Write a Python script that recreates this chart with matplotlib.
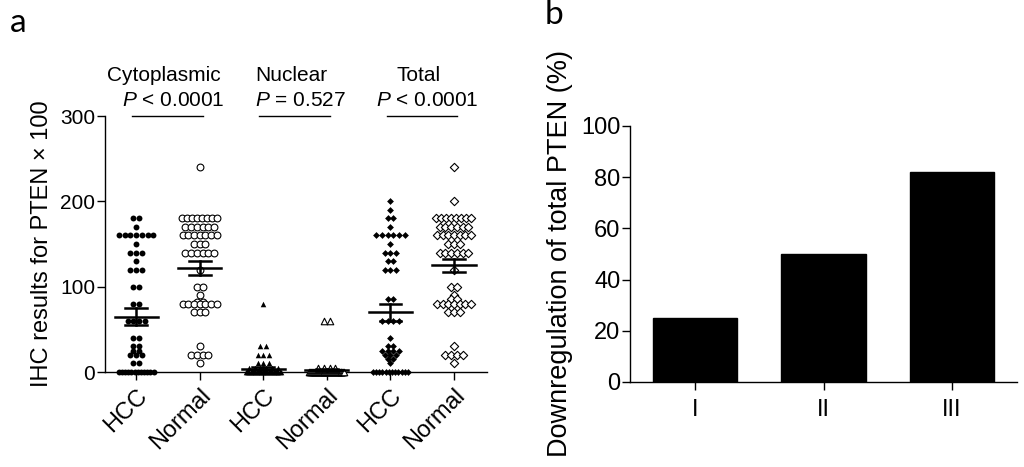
import numpy as np
import matplotlib
matplotlib.use("Agg")
import matplotlib.pyplot as plt

plt.rcParams['font.family'] = ['Liberation Sans', 'DejaVu Sans']
plt.rcParams['mathtext.fontset'] = 'custom'
plt.rcParams['mathtext.it'] = 'Liberation Sans:italic'
plt.rcParams['mathtext.rm'] = 'Liberation Sans'

# ---- panel a: IHC scores (value levels and how many samples sit on each) ----
group_labels = ['HCC', 'Normal', 'HCC', 'Normal', 'HCC', 'Normal']

cyto_hcc_vals = [180, 170, 160, 150, 140, 130, 120, 100, 80, 60, 40, 30, 25, 20, 10, 0]
cyto_hcc_cnts = [2, 1, 7, 1, 3, 1, 3, 2, 2, 4, 2, 2, 2, 3, 2, 12]
cyto_norm_vals = [240, 180, 170, 160, 150, 140, 120, 100, 90, 82, 80, 70, 30, 20, 10]
cyto_norm_cnts = [1, 8, 6, 7, 3, 6, 1, 2, 1, 2, 7, 3, 1, 4, 1]

nuc_hcc_vals = [80, 30, 20, 10, 5, 0]
nuc_hcc_cnts = [1, 2, 3, 3, 6, 30]
nuc_norm_vals = [60, 5, 0]
nuc_norm_cnts = [2, 4, 38]

tot_hcc_vals = [200, 190, 180, 170, 160, 150, 140, 130, 120, 85, 60, 40, 30, 25, 20, 15, 10, 0]
tot_hcc_cnts = [1, 1, 2, 1, 6, 1, 3, 2, 3, 2, 4, 1, 2, 4, 3, 2, 1, 12]
tot_norm_vals = [240, 200, 180, 170, 160, 150, 140, 120, 100, 90, 85, 80, 70, 30, 20, 10]
tot_norm_cnts = [1, 1, 8, 6, 7, 3, 6, 1, 2, 1, 2, 7, 3, 1, 4, 1]

group_means = [65, 122, 4, 2, 70, 125]
group_sems = [9.5, 8, 2, 1, 10, 8]

compartments = ['Cytoplasmic', 'Nuclear', 'Total']
p_texts = [r'$\mathit{P}$ < 0.0001', r'$\mathit{P}$ = 0.527', r'$\mathit{P}$ < 0.0001']

# ---- panel b ----
stages = ['I', 'II', 'III']
downreg = [25, 50, 82]

groups = [
    (cyto_hcc_vals, cyto_hcc_cnts, 'o', True),
    (cyto_norm_vals, cyto_norm_cnts, 'o', False),
    (nuc_hcc_vals, nuc_hcc_cnts, '^', True),
    (nuc_norm_vals, nuc_norm_cnts, '^', False),
    (tot_hcc_vals, tot_hcc_cnts, 'D', True),
    (tot_norm_vals, tot_norm_cnts, 'D', False),
]


def spread(center, vals, cnts, step=0.09, maxw=0.55):
    xs, ys = [], []
    for v, n in zip(vals, cnts):
        if n > 1:
            w = min(step * (n - 1), maxw)
            off = np.linspace(-w / 2, w / 2, n)
        else:
            off = np.array([0.0])
        xs.extend(center + off)
        ys.extend([v] * n)
    return np.array(xs), np.array(ys)


fig = plt.figure(figsize=(10.24, 4.67), dpi=100)
W, H = 1024, 467

axa = fig.add_axes([105 / W, 1 - 372 / H, 382 / W, 256 / H])
for i, (vals, cnts, mk, filled) in enumerate(groups):
    xs, ys = spread(i, vals, cnts)
    size = {'o': 18, '^': 16, 'D': 12}[mk]
    if filled:
        axa.scatter(xs, ys, s=size, marker=mk, c='black', linewidths=0, clip_on=False, zorder=3)
    else:
        axa.scatter(xs, ys, s=size + 6, marker=mk, facecolors='white', edgecolors='black',
                    linewidths=0.8, clip_on=False, zorder=3)
    m, se = group_means[i], group_sems[i]
    axa.plot([i - 0.34, i + 0.34], [m, m], color='black', lw=1.8, zorder=4, clip_on=False)
    axa.plot([i - 0.17, i + 0.17], [m + se, m + se], color='black', lw=1.8, zorder=4, clip_on=False)
    axa.plot([i - 0.17, i + 0.17], [m - se, m - se], color='black', lw=1.8, zorder=4, clip_on=False)
    axa.plot([i, i], [m - se, m + se], color='black', lw=1.8, zorder=4, clip_on=False)

for k, (name, ptxt) in enumerate(zip(compartments, p_texts)):
    g = 2 * k
    axa.text(g + 0.44, 347, name, ha='center', va='center', fontsize=15, clip_on=False)
    axa.text(g + 0.58, 318, ptxt, ha='center', va='center', fontsize=15, clip_on=False)
    axa.plot([g - 0.06, g + 1.05], [300, 300], color='black', lw=1.0, clip_on=False)

axa.set_xlim(-0.49, 5.52)
axa.set_ylim(0, 300)
axa.set_yticks([0, 100, 200, 300])
axa.set_xticks(range(6))
axa.set_xticklabels(group_labels, rotation=45, ha='right', rotation_mode='anchor', fontsize=17)
axa.tick_params(axis='y', labelsize=15, length=6, width=1, pad=1)
axa.tick_params(axis='x', length=6, width=1, pad=3)
axa.set_ylabel('IHC results for PTEN × 100', fontsize=17, labelpad=5)
for s in ['top', 'right']:
    axa.spines[s].set_visible(False)
for s in ['left', 'bottom']:
    axa.spines[s].set_linewidth(1)

axb = fig.add_axes([630 / W, 1 - 382 / H, 387 / W, 256 / H])
axb.bar(range(3), downreg, width=0.66, color='black', edgecolor='black')
axb.set_xlim(-0.506, 2.506)
axb.set_ylim(0, 100)
axb.set_yticks(range(0, 101, 20))
axb.set_xticks(range(3))
axb.set_xticklabels(stages, fontsize=17)
axb.tick_params(axis='y', labelsize=17, length=6, width=1, pad=1)
axb.tick_params(axis='x', length=6, width=1, pad=6)
axb.set_ylabel('Downregulation of total PTEN (%)', fontsize=19.5, labelpad=6)
for s in ['top', 'right']:
    axb.spines[s].set_visible(False)
for s in ['left', 'bottom']:
    axb.spines[s].set_linewidth(1)

fig.text(10 / W, 1 - 32 / H, 'a', fontsize=24, family=['Lato', 'DejaVu Sans'])
fig.text(545 / W, 1 - 24 / H, 'b', fontsize=24, family=['Lato', 'DejaVu Sans'])

fig.savefig('out.png', dpi=100)
